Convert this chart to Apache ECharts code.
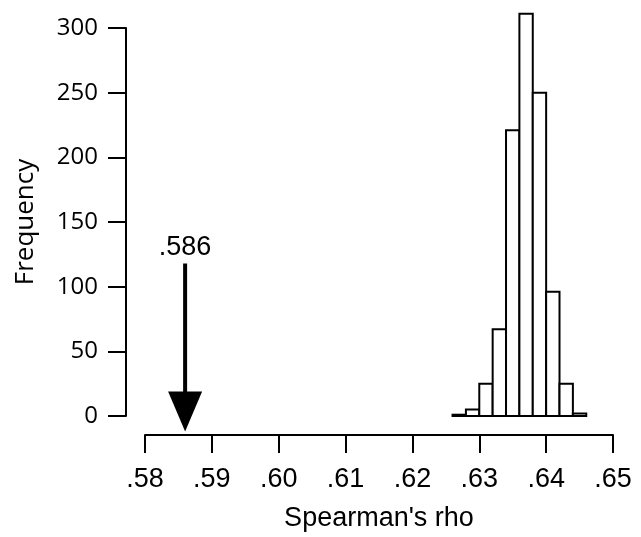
<!DOCTYPE html>
<html>
<head>
<meta charset="utf-8">
<title>Spearman's rho histogram</title>
<style type="text/css">
    *{ margin:0; padding:0; }
    html,body{ width:641px; height:537px; background:#fff; }
    #main{ width:641px; height:537px; }
</style>
</head>
<body>
<div id="main"></div>
<script src="https://cdn.jsdelivr.net/npm/echarts@6/dist/echarts.min.js"></script>
<script type="text/javascript">
// histogram bins (left edge, right edge) and counts
var binStart = [0.626, 0.628, 0.630, 0.632, 0.634, 0.636, 0.638, 0.640, 0.642, 0.644];
var binEnd   = [0.628, 0.630, 0.632, 0.634, 0.636, 0.638, 0.640, 0.642, 0.644, 0.646];
var counts   = [1, 5, 25, 67, 221, 311, 250, 96, 25, 2];
// observed value marked by the arrow
var observed = 0.586;
var xTicks = [0.58, 0.59, 0.60, 0.61, 0.62, 0.63, 0.64, 0.65];
var yTicks = [0, 50, 100, 150, 200, 250, 300];

var barData = binStart.map(function (s, i) { return [s, binEnd[i], counts[i]]; });

var myChart = echarts.init(document.getElementById('main'));

var option = {
    animation: false,
    grid: { left: 145, right: 28, top: 28, bottom: 116 },
    xAxis: {
        type: 'value',
        min: xTicks[0],
        max: xTicks[xTicks.length - 1],
        interval: 0.01,
        offset: 19,
        splitLine: { show: false },
        axisLine: { show: true, onZero: false, lineStyle: { color: '#000', width: 2 } },
        axisTick: { show: true, length: 18, lineStyle: { color: '#000', width: 2 } },
        axisLabel: {
            margin: 31, color: '#000', fontSize: 27, fontFamily: 'Liberation Sans',
            formatter: function (v) { return v.toFixed(2).slice(1); }
        },
        name: "Spearman's rho",
        nameLocation: 'middle',
        nameGap: 70,
        nameTextStyle: { color: '#000', fontSize: 27, fontFamily: 'Liberation Sans' }
    },
    yAxis: {
        type: 'value',
        min: yTicks[0],
        max: yTicks[yTicks.length - 1],
        interval: 50,
        offset: 19,
        splitLine: { show: false },
        axisLine: { show: true, onZero: false, lineStyle: { color: '#000', width: 2 } },
        axisTick: { show: true, length: 18, lineStyle: { color: '#000', width: 2 } },
        axisLabel: { margin: 28, color: '#000', fontSize: 24, fontFamily: 'Open Sans' },
        name: 'Frequency',
        nameLocation: 'middle',
        nameGap: 87,
        nameTextStyle: { color: '#000', fontSize: 26, fontFamily: 'Open Sans' }
    },
    series: [
        {
            type: 'custom',
            clip: false,
            data: barData,
            renderItem: function (params, api) {
                var top = api.coord([api.value(0), api.value(2)]);
                var bot = api.coord([api.value(1), 0]);
                return {
                    type: 'rect',
                    shape: { x: top[0], y: top[1], width: bot[0] - top[0], height: bot[1] - top[1] },
                    style: { fill: '#fff', stroke: '#000', lineWidth: 2 }
                };
            }
        },
        {
            type: 'custom',
            clip: false,
            data: [[observed]],
            renderItem: function (params, api) {
                var v = api.value(0);
                var top = api.coord([v, 118]);
                var tip = api.coord([v, -12]);
                var headH = 40, headW = 17;
                return {
                    type: 'group',
                    children: [
                        {
                            type: 'line',
                            shape: { x1: top[0], y1: top[1], x2: tip[0], y2: tip[1] - headH + 2 },
                            style: { stroke: '#000', lineWidth: 4 }
                        },
                        {
                            type: 'polygon',
                            shape: { points: [[tip[0] - headW, tip[1] - headH], [tip[0] + headW, tip[1] - headH], [tip[0], tip[1]]] },
                            style: { fill: '#000' }
                        },
                        {
                            type: 'text',
                            x: top[0], y: top[1] - 2,
                            style: {
                                text: String(observed).slice(1),
                                fill: '#000', fontSize: 27, fontFamily: 'Liberation Sans',
                                align: 'center', verticalAlign: 'bottom'
                            }
                        }
                    ]
                };
            }
        }
    ]
};
myChart.setOption(option);
</script>
</body>
</html>
